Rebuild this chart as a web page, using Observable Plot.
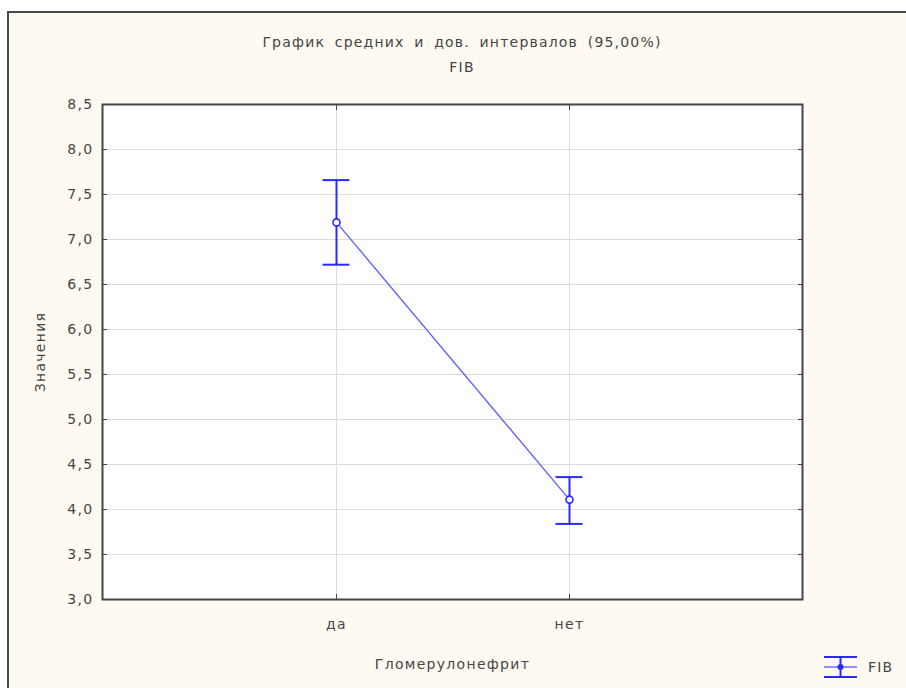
<!DOCTYPE html>
<html>
<head>
<meta charset="utf-8">
<script src="https://cdn.jsdelivr.net/npm/d3@7"></script>
<script src="https://cdn.jsdelivr.net/npm/@observablehq/plot@0.6"></script>
<style>
  html, body { margin: 0; padding: 0; background: #ffffff; }
  #wrap { position: relative; width: 906px; height: 688px; overflow: hidden; font-family: "DejaVu Sans", sans-serif; color: #454545; }
  #bg { position: absolute; left: 7px; top: 11px; width: 920px; height: 700px; border-left: 2px solid #4a4a4a; border-top: 2px solid #4a4a4a; background: #fffaf1; }
  #content { position: absolute; left: 0; top: 0; width: 906px; height: 688px; }
  #header { height: 88px; width: 906px; box-sizing: border-box; padding-left: 18px; text-align: center; }
  #title { padding-top: 33px; font-size: 14px; letter-spacing: 1.2px; word-spacing: 4px; line-height: 18px; }
  #subtitle { padding-top: 7px; font-size: 14px; letter-spacing: 1.2px; line-height: 18px; }
  #row { display: flex; flex-direction: row; height: 600px; }
  #chart { width: 820px; height: 600px; }
  #chart svg text { letter-spacing: 1.3px; }
  #legend { width: 86px; height: 600px; position: relative; }
  #legendItem { position: absolute; left: 3px; top: 567px; display: flex; align-items: center; font-size: 14px; letter-spacing: 1.2px; }
  #legendItem svg { margin-right: 10px; }
</style>
</head>
<body>
<div id="wrap">
  <div id="bg"></div>
  <div id="content">
    <div id="header">
      <div id="title">График средних и дов. интервалов (95,00%)</div>
      <div id="subtitle">FIB</div>
    </div>
    <div id="row">
      <div id="chart"></div>
      <div id="legend">
        <div id="legendItem">
          <svg width="35" height="24" viewBox="0 0 35 24">
            <line x1="1" x2="34" y1="2" y2="2" stroke="#2a2aff" stroke-width="2"/>
            <line x1="1" x2="34" y1="12" y2="12" stroke="#6b6bff" stroke-width="1.5"/>
            <line x1="1" x2="34" y1="22" y2="22" stroke="#2a2aff" stroke-width="2"/>
            <line x1="17.5" x2="17.5" y1="2" y2="22" stroke="#2a2aff" stroke-width="2"/>
            <circle cx="17.5" cy="12" r="3" fill="#2a2aff"/>
          </svg>
          <span>FIB</span>
        </div>
      </div>
    </div>
  </div>
</div>
<script>
const categories = ["да", "нет"];
const means = [7.19, 4.11];
const lower = [6.72, 3.84];
const upper = [7.66, 4.36];
const yTicks = [3.0, 3.5, 4.0, 4.5, 5.0, 5.5, 6.0, 6.5, 7.0, 7.5, 8.0, 8.5];
const seriesName = "FIB";

const data = categories.map((c, i) => ({cat: c, mean: means[i], lo: lower[i], hi: upper[i], series: seriesName}));
const fmt = d => d.toFixed(1).replace(".", ",");

const blue = "#2a2aff";
const lineBlue = "#6565f5";
const grid = "#dcdcdc";
const textColor = "#454545";

const chart = Plot.plot({
  width: 820,
  height: 600,
  marginLeft: 102,
  marginRight: 18,
  marginTop: 16,
  marginBottom: 89,
  style: {fontFamily: "'DejaVu Sans', sans-serif", fontSize: "14px", color: textColor, background: "transparent"},
  x: {type: "point", domain: categories, padding: 1},
  y: {domain: [3, 8.5]},
  marks: [
    Plot.frame({fill: "white", stroke: "none"}),
    Plot.gridY(yTicks, {stroke: grid, strokeOpacity: 1}),
    Plot.gridX(categories, {stroke: grid, strokeOpacity: 1}),
    Plot.axisY(yTicks, {anchor: "left", tickSize: -5, tickPadding: 14, tickFormat: fmt, stroke: "#444", fill: textColor,
      label: "Значения", labelAnchor: "center", labelArrow: "none", labelOffset: 67}),
    Plot.axisY(yTicks, {anchor: "right", tickSize: -5, stroke: "#444", fill: "none", label: null}),
    Plot.axisX(categories, {anchor: "bottom", tickSize: -5, tickPadding: 25, stroke: "#444", fill: textColor,
      label: "Гломерулонефрит", labelAnchor: "center", labelArrow: "none", labelOffset: 69}),
    Plot.axisX(categories, {anchor: "top", tickSize: -5, stroke: "#444", fill: "none", label: null}),
    Plot.line(data, {x: "cat", y: "mean", stroke: lineBlue, strokeWidth: 1.4}),
    Plot.ruleX(data, {x: "cat", y1: "lo", y2: "hi", stroke: blue, strokeWidth: 2}),
    Plot.ruleY(data, {x1: "cat", x2: "cat", y: "lo", stroke: blue, strokeWidth: 2, insetLeft: -13.5, insetRight: -13.5}),
    Plot.ruleY(data, {x1: "cat", x2: "cat", y: "hi", stroke: blue, strokeWidth: 2, insetLeft: -13.5, insetRight: -13.5}),
    Plot.dot(data, {x: "cat", y: "mean", r: 3.5, stroke: blue, strokeWidth: 1.6, fill: "white"}),
    Plot.frame({stroke: "#444", strokeWidth: 2})
  ]
});
document.getElementById("chart").appendChild(chart);
</script>
</body>
</html>
